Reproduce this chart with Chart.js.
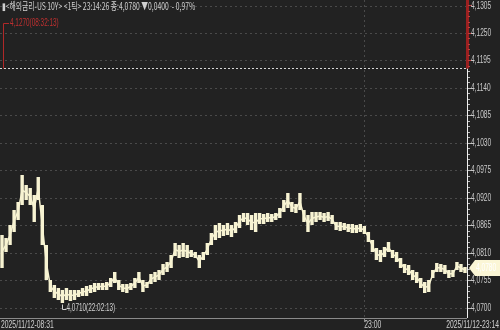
<!DOCTYPE html>
<html><head><meta charset="utf-8">
<script src="https://cdn.jsdelivr.net/npm/chart.js@4.4.0/dist/chart.umd.min.js"></script>
<style>html,body{margin:0;padding:0;background:#222222;}#wrap{width:500px;height:330px;position:relative;}</style>
</head><body><div id="wrap"><canvas id="c" width="500" height="330"></canvas></div>
<script>
const highs = [4.0846,4.0840,4.0866,4.0896,4.0912,4.0966,4.0946,4.0940,4.0926,4.0962,
4.0906,4.0826,4.0756,4.0746,4.0740,4.0736,4.0740,4.0736,4.0736,4.0736,
4.0740,4.0744,4.0746,4.0750,4.0750,4.0750,4.0752,4.0760,4.0772,4.0756,
4.0748,4.0748,4.0750,4.0760,4.0772,4.0756,4.0752,4.0768,4.0772,4.0776,
4.0788,4.0792,4.0806,4.0830,4.0826,4.0830,4.0826,4.0816,4.0812,4.0806,
4.0812,4.0830,4.0850,4.0866,4.0870,4.0866,4.0870,4.0866,4.0872,4.0886,
4.0890,4.0890,4.0886,4.0890,4.0890,4.0888,4.0890,4.0888,4.0890,4.0900,
4.0916,4.0930,4.0912,4.0908,4.0930,4.0896,4.0886,4.0892,4.0892,4.0892,
4.0890,4.0892,4.0886,4.0872,4.0872,4.0870,4.0868,4.0868,4.0866,4.0868,
4.0864,4.0852,4.0836,4.0820,4.0816,4.0822,4.0832,4.0816,4.0812,4.0800,
4.0788,4.0786,4.0776,4.0772,4.0760,4.0752,4.0756,4.0776,4.0790,4.0788,
4.0786,4.0776,4.0776,4.0792,4.0788,4.0782];
const lows = [4.0780,4.0812,4.0826,4.0852,4.0876,4.0906,4.0916,4.0906,4.0872,4.0916,
4.0826,4.0756,4.0732,4.0720,4.0716,4.0710,4.0716,4.0714,4.0716,4.0722,
4.0724,4.0724,4.0730,4.0732,4.0736,4.0736,4.0736,4.0742,4.0750,4.0736,
4.0732,4.0730,4.0736,4.0740,4.0750,4.0732,4.0740,4.0748,4.0752,4.0756,
4.0766,4.0772,4.0780,4.0804,4.0800,4.0802,4.0800,4.0802,4.0800,4.0780,
4.0796,4.0806,4.0826,4.0836,4.0840,4.0844,4.0846,4.0842,4.0850,4.0860,
4.0872,4.0866,4.0856,4.0852,4.0868,4.0868,4.0872,4.0872,4.0876,4.0880,
4.0892,4.0900,4.0892,4.0890,4.0896,4.0872,4.0852,4.0866,4.0872,4.0876,
4.0872,4.0874,4.0868,4.0856,4.0854,4.0856,4.0852,4.0850,4.0850,4.0852,
4.0848,4.0832,4.0812,4.0796,4.0792,4.0802,4.0812,4.0800,4.0792,4.0780,
4.0770,4.0766,4.0756,4.0750,4.0740,4.0730,4.0732,4.0760,4.0772,4.0772,
4.0768,4.0760,4.0762,4.0776,4.0772,4.0770];
const categories = highs.map((_, i) => 'T' + (i + 1));
const yTicks = [4.0700,4.0755,4.0810,4.0865,4.0920,4.0975,4.1030,4.1085,4.1140,4.1195,4.1250,4.1305];
const xTickLabels = ['2025/11/12-08:31', '23:00', '2025/11/12-23:14'];
const xTickIndex = [0, 90, 115];
const headerText = '▮<해외금리-US 10Y> <1틱> 23:14:26 종:4,0780 ▼0,0400  - 0,97%';
const lastPrice = 4.0780;
const dayHigh = 4.1270, dayHighTime = '08:32:13';
const dayLow = 4.0710, dayLowTime = '22:02:13', dayLowIndex = 15;
const limitLine = 4.1180;

const fmt = v => v.toFixed(4).replace('.', ',');
const FONT = '"Liberation Sans", "DejaVu Sans", sans-serif';

function narrowText(ctx, text, x, y, align, sx) {
  ctx.save();
  ctx.translate(x, y);
  ctx.scale(sx, 1);
  ctx.textAlign = align;
  ctx.fillText(text, 0, 0);
  ctx.restore();
}

const overlay = {
  id: 'overlay',
  beforeDatasetsDraw(chart) {
    const {ctx, chartArea: a, scales: {y}} = chart;
    ctx.save();
    ctx.strokeStyle = '#4a4a4a';
    ctx.lineWidth = 1;
    ctx.setLineDash([2, 3]);
    yTicks.forEach(v => {
      const py = Math.round(y.getPixelForValue(v)) + 0.5;
      ctx.beginPath(); ctx.moveTo(a.left, py); ctx.lineTo(a.right, py); ctx.stroke();
    });
    const x = chart.scales.x;
    const gx = Math.round(x.getPixelForValue(xTickIndex[1])) + 0.5;
    ctx.beginPath(); ctx.moveTo(gx, a.top); ctx.lineTo(gx, a.bottom); ctx.stroke();
    ctx.restore();
  },
  afterDraw(chart) {
    const {ctx, chartArea: a, scales: {x, y}} = chart;
    ctx.save();
    ctx.textBaseline = 'middle';
    const ly = Math.round(y.getPixelForValue(limitLine)) + 0.5;
    ctx.strokeStyle = '#d8d8d8'; ctx.setLineDash([2, 2]); ctx.lineWidth = 1;
    ctx.beginPath(); ctx.moveTo(a.left, ly); ctx.lineTo(a.right, ly); ctx.stroke();
    ctx.setLineDash([]);
    ctx.strokeStyle = '#f0f0f0';
    ctx.beginPath(); ctx.moveTo(a.right + 0.5, ly); ctx.lineTo(a.right + 0.5, a.bottom); ctx.stroke();
    ctx.fillStyle = '#9b2020';
    ctx.fillRect(a.right - 1, a.top, 3, ly - a.top);
    ctx.strokeStyle = '#8a8a8a';
    ctx.beginPath(); ctx.moveTo(0, a.bottom + 0.5); ctx.lineTo(a.right, a.bottom + 0.5); ctx.stroke();
    for (let v = 4.0700; v <= 4.1316; v += 0.0011) {
      const py = Math.round(y.getPixelForValue(v)) + 0.5;
      const major = Math.abs(((v - 4.07) / 0.0055) - Math.round((v - 4.07) / 0.0055)) < 0.01;
      ctx.strokeStyle = py < ly ? '#c04040' : '#bbbbbb';
      ctx.beginPath(); ctx.moveTo(a.right + 1, py); ctx.lineTo(a.right + 1 + (major ? 4 : 2), py); ctx.stroke();
    }
    ctx.font = '10px ' + FONT;
    ctx.fillStyle = '#c8c8c8';
    yTicks.forEach(v => {
      narrowText(ctx, fmt(v), a.right + 4, Math.round(y.getPixelForValue(v)) + 0.5, 'left', 0.66);
    });
    const hy = Math.round(y.getPixelForValue(dayHigh)) + 0.5;
    ctx.strokeStyle = '#b02828';
    ctx.beginPath(); ctx.moveTo(3.5, ly); ctx.lineTo(3.5, hy); ctx.lineTo(9, hy); ctx.stroke();
    ctx.fillStyle = '#c03030';
    narrowText(ctx, fmt(dayHigh) + '(' + dayHighTime + ')', 10, hy, 'left', 0.64);
    const lx = Math.round(x.getPixelForValue(dayLowIndex)) + 0.5;
    const lyy = Math.round(y.getPixelForValue(dayLow)) + 0.5;
    ctx.strokeStyle = '#d0d0d0';
    ctx.beginPath(); ctx.moveTo(lx, lyy + 1); ctx.lineTo(lx, lyy + 6); ctx.lineTo(lx + 4, lyy + 6); ctx.stroke();
    ctx.fillStyle = '#d0d0d0';
    narrowText(ctx, fmt(dayLow) + '(' + dayLowTime + ')', lx + 4, lyy + 5, 'left', 0.64);
    ctx.font = '10px "Noto Sans CJK KR", ' + FONT;
    ctx.fillStyle = '#d0d0d0';
    narrowText(ctx, headerText, 2, 6, 'left', 0.68);
    ctx.font = '10px ' + FONT;
    ctx.fillStyle = '#d0d0d0';
    narrowText(ctx, xTickLabels[0], 1, a.bottom + 7, 'left', 0.68);
    const mx = x.getPixelForValue(xTickIndex[1]);
    narrowText(ctx, xTickLabels[1], mx, a.bottom + 7, 'left', 0.68);
    ctx.strokeStyle = '#8a8a8a';
    ctx.beginPath(); ctx.moveTo(Math.round(mx) + 0.5, a.bottom); ctx.lineTo(Math.round(mx) + 0.5, a.bottom + 4); ctx.stroke();
    narrowText(ctx, xTickLabels[2], 499, a.bottom + 7, 'right', 0.68);
    const py = Math.round(y.getPixelForValue(lastPrice));
    const bx = a.right + 2;
    ctx.fillStyle = '#fbf6d6';
    ctx.beginPath();
    ctx.moveTo(bx, py); ctx.lineTo(bx + 6, py - 8); ctx.lineTo(500, py - 8);
    ctx.lineTo(500, py + 8); ctx.lineTo(bx + 6, py + 8); ctx.closePath(); ctx.fill();
    ctx.fillStyle = '#ffffff';
    narrowText(ctx, fmt(lastPrice), bx + 7, py, 'left', 0.66);
    ctx.restore();
  }
};

new Chart(document.getElementById('c'), {
  type: 'bar',
  data: {
    labels: categories,
    datasets: [{
      type: 'line',
      data: highs.map((h, i) => (h + lows[i]) / 2),
      borderColor: '#f7f3d2',
      borderWidth: 1.5,
      pointRadius: 0,
      tension: 0,
      order: 1
    }, {
      data: highs.map((h, i) => [lows[i], h]),
      backgroundColor: '#f7f3d2',
      borderWidth: 0,
      barPercentage: 1.0,
      categoryPercentage: 0.85,
      borderSkipped: false,
      order: 2
    }]
  },
  options: {
    responsive: false,
    animation: false,
    devicePixelRatio: 1,
    layout: {padding: {left: 0, right: 0, top: 0, bottom: 12}},
    plugins: {legend: {display: false}, tooltip: {enabled: false}},
    scales: {
      x: {display: false, offset: true},
      y: {
        position: 'right',
        min: 4.0680, max: 4.1316,
        afterBuildTicks: s => { s.ticks = yTicks.map(v => ({value: v})); },
        afterFit: s => { s.width = 33; },
        grid: {display: false, drawTicks: false},
        border: {display: false},
        ticks: { display: false }
      }
    }
  },
  plugins: [overlay]
});
</script></body></html>
